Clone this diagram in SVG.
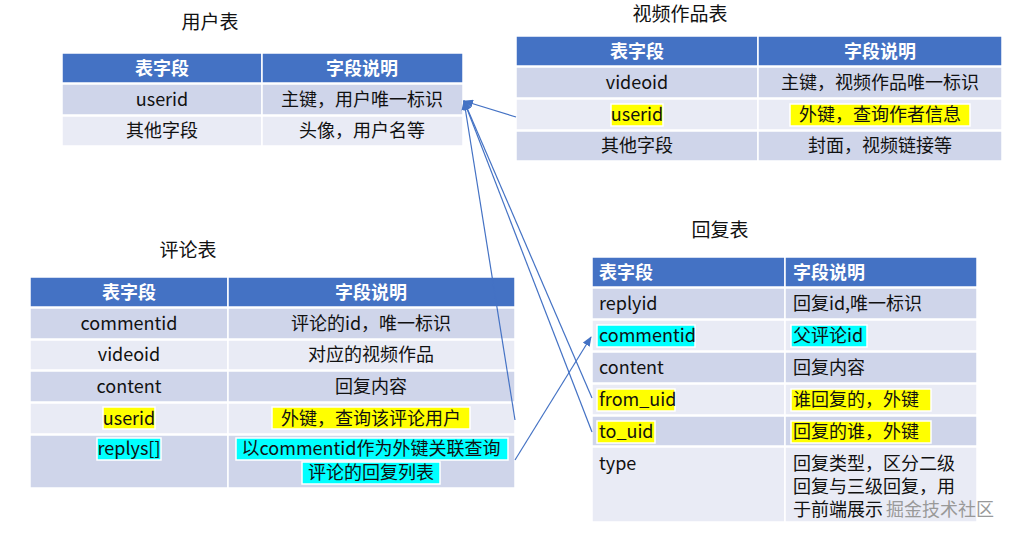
<svg xmlns="http://www.w3.org/2000/svg" width="1010" height="537" viewBox="0 0 1010 537">
<style>
text{font-family:"Noto Sans CJK SC","Noto Sans",sans-serif;font-size:18px;fill:#111}
.h{fill:#4472C4}.a{fill:#CFD5EA}.b{fill:#E9EBF5}
.ht{fill:#fff;font-weight:bold}
.t{font-size:19px}
.c{text-anchor:middle}
.y{fill:#FFFF00}.cy{fill:#00FFFF}
.ln{stroke:#4472C4;stroke-width:1.2;fill:none;marker-end:url(#ar)}
rect{stroke:#fff;stroke-width:1.5}
</style>
<defs><marker id="ar" markerWidth="10" markerHeight="8" refX="9" refY="4" orient="auto" markerUnits="userSpaceOnUse"><path d="M0,0L10,4L0,8z" fill="#4472C4"/></marker></defs>
<rect width="1010" height="537" fill="#fff" stroke="none"/>
<g id="users">
<text class="t c" x="210" y="29">用户表</text>
<rect class="h" x="62" y="53" width="200" height="30"/><rect class="h" x="262" y="53" width="201" height="30"/>
<rect class="a" x="62" y="84" width="200" height="31"/><rect class="a" x="262" y="84" width="201" height="31"/>
<rect class="b" x="62" y="116" width="200" height="30"/><rect class="b" x="262" y="116" width="201" height="30"/>
<text class="ht c" x="162" y="75">表字段</text><text class="ht c" x="362" y="75">字段说明</text>
<text class="c" x="162" y="106">userid</text><text class="c" x="362" y="106">主键，用户唯一标识</text>
<text class="c" x="162" y="137">其他字段</text><text class="c" x="362" y="137">头像，用户名等</text>
</g>
<g id="videos">
<text class="t c" x="680" y="21">视频作品表</text>
<rect class="h" x="516" y="36" width="242" height="30"/><rect class="h" x="758" y="36" width="244" height="30"/>
<rect class="a" x="516" y="67" width="242" height="31"/><rect class="a" x="758" y="67" width="244" height="31"/>
<rect class="b" x="516" y="99" width="242" height="31"/><rect class="b" x="758" y="99" width="244" height="31"/>
<rect class="a" x="516" y="131" width="242" height="30"/><rect class="a" x="758" y="131" width="244" height="30"/>
<text class="ht c" x="637" y="58">表字段</text><text class="ht c" x="880" y="58">字段说明</text>
<text class="c" x="637" y="89">videoid</text><text class="c" x="880" y="89">主键，视频作品唯一标识</text>
<rect class="y" x="611" y="104" width="52" height="22" stroke="none"/><rect class="y" x="790" y="104" width="180" height="22" stroke="none"/>
<text class="c" x="637" y="121">userid</text><text class="c" x="880" y="121">外键，查询作者信息</text>
<text class="c" x="637" y="152">其他字段</text><text class="c" x="880" y="152">封面，视频链接等</text>
</g>
<g id="comments">
<text class="t c" x="188" y="257">评论表</text>
<rect class="h" x="30" y="277" width="198" height="30"/><rect class="h" x="228" y="277" width="287" height="30"/>
<rect class="a" x="30" y="308" width="198" height="31"/><rect class="a" x="228" y="308" width="287" height="31"/>
<rect class="b" x="30" y="340" width="198" height="30"/><rect class="b" x="228" y="340" width="287" height="30"/>
<rect class="a" x="30" y="371" width="198" height="31"/><rect class="a" x="228" y="371" width="287" height="31"/>
<rect class="b" x="30" y="403" width="198" height="31"/><rect class="b" x="228" y="403" width="287" height="31"/>
<rect class="a" x="30" y="435" width="198" height="53"/><rect class="a" x="228" y="435" width="287" height="53"/>
<text class="ht c" x="129" y="299">表字段</text><text class="ht c" x="371" y="299">字段说明</text>
<text class="c" x="129" y="330">commentid</text><text class="c" x="371" y="330">评论的id，唯一标识</text>
<text class="c" x="129" y="361">videoid</text><text class="c" x="371" y="361">对应的视频作品</text>
<text class="c" x="129" y="393">content</text><text class="c" x="371" y="393">回复内容</text>
<rect class="y" x="103" y="407" width="52" height="22" stroke="none"/><rect class="y" x="272" y="407" width="198" height="22" stroke="none"/>
<text class="c" x="129" y="425">userid</text><text class="c" x="371" y="425">外键，查询该评论用户</text>
<rect class="cy" x="97" y="438" width="64" height="22" stroke="none"/><rect class="cy" x="236" y="438" width="272" height="22" stroke="none"/><rect class="cy" x="302" y="462" width="138" height="22" stroke="none"/>
<text class="c" x="129" y="455">replys[]</text><text class="c" x="371" y="455">以commentid作为外键关联查询</text>
<text class="c" x="371" y="479">评论的回复列表</text>
</g>
<g id="replies">
<text class="t c" x="720" y="237">回复表</text>
<rect class="h" x="592" y="257" width="193" height="30"/><rect class="h" x="785" y="257" width="192" height="30"/>
<rect class="a" x="592" y="288" width="193" height="31"/><rect class="a" x="785" y="288" width="192" height="31"/>
<rect class="b" x="592" y="320" width="193" height="31"/><rect class="b" x="785" y="320" width="192" height="31"/>
<rect class="a" x="592" y="352" width="193" height="31"/><rect class="a" x="785" y="352" width="192" height="31"/>
<rect class="b" x="592" y="384" width="193" height="31"/><rect class="b" x="785" y="384" width="192" height="31"/>
<rect class="a" x="592" y="416" width="193" height="30"/><rect class="a" x="785" y="416" width="192" height="30"/>
<rect class="b" x="592" y="447" width="193" height="75"/><rect class="b" x="785" y="447" width="192" height="75"/>
<text class="ht" x="599" y="279">表字段</text><text class="ht" x="793" y="279">字段说明</text>
<text x="599" y="310">replyid</text><text x="793" y="310">回复id,唯一标识</text>
<rect class="cy" x="597" y="325" width="98" height="22" stroke="none"/><rect class="cy" x="791" y="325" width="76" height="22" stroke="none"/>
<text x="599" y="342">commentid</text><text x="793" y="342">父评论id</text>
<text x="599" y="374">content</text><text x="793" y="374">回复内容</text>
<rect class="y" x="597" y="389" width="78" height="22" stroke="none"/><rect class="y" x="791" y="389" width="140" height="22" stroke="none"/>
<text x="599" y="406">from_uid</text><text x="793" y="406">谁回复的，外键</text>
<rect class="y" x="597" y="421" width="58" height="22" stroke="none"/><rect class="y" x="791" y="421" width="140" height="22" stroke="none"/>
<text x="599" y="438">to_uid</text><text x="793" y="438">回复的谁，外键</text>
<text x="599" y="470">type</text><text x="793" y="470">回复类型，区分二级</text>
<text x="793" y="493">回复与三级回复，用</text>
<text x="793" y="516">于前端展示</text>
</g>
<g id="connectors">
<line class="ln" x1="516" y1="117" x2="464" y2="101"/>
<line class="ln" x1="515" y1="420" x2="464" y2="101"/>
<line class="ln" x1="592" y1="398" x2="464" y2="101"/>
<line class="ln" x1="592" y1="432" x2="464" y2="101"/>
<line class="ln" x1="515" y1="460" x2="591" y2="337"/>
</g>
<text x="886" y="516" style="fill:#999;font-size:18px">掘金技术社区</text>
</svg>
